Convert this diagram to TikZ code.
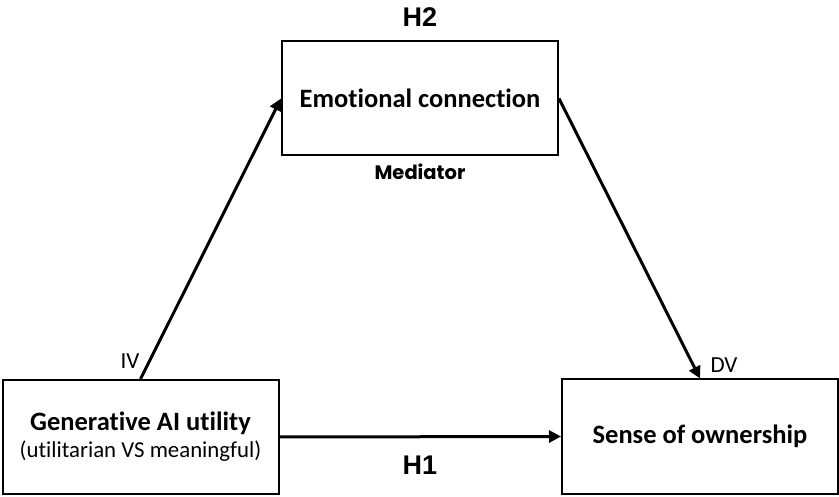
\documentclass[tikz,border=0pt]{standalone}
\usepackage{fontspec}
\setmainfont{Carlito}[Ligatures={NoCommon}]
\newfontfamily\hfont{Liberation Sans}
\newfontfamily\mfont{Poppins}
\usepackage{tikz}
\usetikzlibrary{arrows.meta, positioning}
\tikzset{
  varbox/.style={rectangle, draw=black, fill=white, line width=2pt,
                 minimum width=276pt, minimum height=114pt,
                 font=\fontsize{26.5}{29}\selectfont\bfseries, align=center},
  arr/.style={-{Triangle[length=12pt, width=12pt]}, line width=3pt},
  hyplabel/.style={font=\hfont\fontsize{27}{30}\selectfont\bfseries},
  rolelabel/.style={font=\fontsize{23}{25}\selectfont},
}

\begin{document}
\begin{tikzpicture}[x=1pt, y=1pt]
      \useasboundingbox (0,0) rectangle (839,496);

      \node[varbox] (med) at (420,397.5) {Emotional connection};
      \node[varbox] (iv) at (140.5,59)
            {Generative AI utility\\[-2pt]{\fontsize{22.8}{25}\selectfont\mdseries (utilitarian VS meaningful)}};
      \node[varbox] (dv) at (700,59.5) {Sense of ownership};

      \node[hyplabel] (h2) at (420,479) {H2};
      \node[hyplabel] (h1) at (420,31) {H1};
      \node[font=\mfont\fontsize{19.5}{22}\selectfont\bfseries] (medlab) at (420,324) {Mediator};
      \node[rolelabel] (ivlab) at (130,135) {IV};
      \node[rolelabel] (dvlab) at (724,131) {DV};

      \draw[arr] (iv.north) -- (med.west);
      \draw[arr] (med.east) -- (dv.north);
      \draw[arr] (iv.east) -- (dv.west);
    \end{tikzpicture}
\end{document}
